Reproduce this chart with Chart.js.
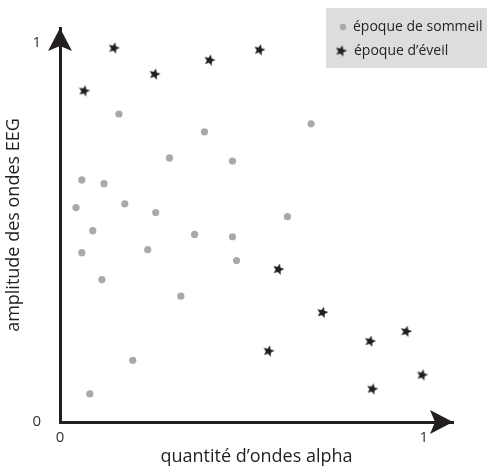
<!DOCTYPE html>
<html><head><meta charset="utf-8">
<script src="https://cdn.jsdelivr.net/npm/chart.js@4/dist/chart.umd.min.js"></script>
<style>html,body{margin:0;padding:0;background:#fff;overflow:hidden;}</style>
</head><body>
<canvas id="c" width="487" height="466"></canvas>
<script>
// ---- data ----
const seriesLabels = ['époque de sommeil', 'époque d’éveil'];
const sleepX = [0.162,0.397,0.690,0.301,0.474,0.060,0.121,0.044,0.178,0.263,0.625,0.090,0.370,0.474,0.060,0.241,0.485,0.115,0.332,0.200,0.082];
const sleepY = [0.813,0.766,0.787,0.697,0.689,0.639,0.629,0.566,0.576,0.553,0.542,0.505,0.495,0.489,0.447,0.455,0.426,0.376,0.332,0.163,0.074];
const wakeX = [0.148,0.411,0.548,0.260,0.066,0.600,0.721,0.951,0.852,0.573,0.995,0.858];
const wakeY = [0.987,0.955,0.982,0.918,0.874,0.403,0.289,0.239,0.213,0.187,0.124,0.087];
const xTickValues = [0, 1];
const yTickValues = [0, 1];
const xTitle = 'quantité d’ondes alpha';
const yTitle = 'amplitude des ondes EEG';

const INK = '#231f20';
const GRAY = '#a7a9ac';
const FONT = '"Open Sans", "Noto Sans", sans-serif';

function makeStar(size, color, rot) {
  const c = document.createElement('canvas');
  c.width = size; c.height = size;
  const g = c.getContext('2d');
  const cx = size/2, cy = size/2, R = size/2 - 0.5, r = R*0.45;
  g.beginPath();
  for (let i = 0; i < 10; i++) {
    const a = -Math.PI/2 + rot + i*Math.PI/5;
    const rr = i % 2 === 0 ? R : r;
    const x = cx + rr*Math.cos(a), y = cy + rr*Math.sin(a);
    if (i === 0) g.moveTo(x, y); else g.lineTo(x, y);
  }
  g.closePath();
  g.fillStyle = color; g.fill();
  return c;
}
const starImg = makeStar(13, INK, 0.25);

const toPts = (xs, ys) => xs.map((x, i) => ({x, y: ys[i]}));

const axisArrows = {
  id: 'axisArrows',
  afterDraw(chart) {
    const {ctx, chartArea: a} = chart;
    ctx.save();
    ctx.fillStyle = INK;
    const L = 23, W = 12, N = 5;
    ctx.beginPath();
    ctx.moveTo(a.right, a.bottom);
    ctx.lineTo(a.right - L, a.bottom - W);
    ctx.lineTo(a.right - L + N, a.bottom);
    ctx.lineTo(a.right - L, a.bottom + W);
    ctx.closePath(); ctx.fill();
    ctx.beginPath();
    ctx.moveTo(a.left, a.top);
    ctx.lineTo(a.left - W, a.top + L);
    ctx.lineTo(a.left, a.top + L - N);
    ctx.lineTo(a.left + W, a.top + L);
    ctx.closePath(); ctx.fill();
    ctx.restore();
  }
};

const boxLegend = {
  id: 'boxLegend',
  afterDraw(chart) {
    const {ctx} = chart;
    ctx.save();
    ctx.fillStyle = '#dcdddd';
    ctx.fillRect(326, 8, 170, 60);
    ctx.font = '14px ' + FONT;
    ctx.textBaseline = 'middle';
    const ds = chart.data.datasets;
    ctx.beginPath();
    ctx.arc(343, 27, 3.2, 0, Math.PI*2);
    ctx.fillStyle = GRAY; ctx.fill();
    ctx.fillStyle = INK;
    ctx.fillText(ds[0].label, 353, 27);
    ctx.drawImage(starImg, 341 - 6.5, 51 - 6.5);
    ctx.fillText(ds[1].label, 354, 51);
    ctx.restore();
  }
};

new Chart(document.getElementById('c'), {
  type: 'scatter',
  data: {
    datasets: [
      { label: seriesLabels[0], data: toPts(sleepX, sleepY), pointStyle: 'circle', pointRadius: 3.6, pointHoverRadius: 3.6, backgroundColor: GRAY, borderColor: GRAY, borderWidth: 0 },
      { label: seriesLabels[1], data: toPts(wakeX, wakeY), pointStyle: starImg, pointRadius: 6, pointHoverRadius: 6, backgroundColor: INK, borderColor: INK }
    ]
  },
  options: {
    responsive: false,
    animation: false,
    devicePixelRatio: 1,
    layout: { padding: { top: 28, right: 34, left: 0, bottom: 0 } },
    plugins: { legend: { display: false }, tooltip: { enabled: false } },
    scales: {
      x: {
        type: 'linear', min: 0, max: 1.08,
        afterBuildTicks: s => { s.ticks = xTickValues.map(v => ({value: v})); },
        afterFit: s => { s.height = 44; },
        grid: { display: false, drawTicks: false },
        border: { display: true, color: INK, width: 3 },
        ticks: { padding: 7, color: '#333', font: { family: FONT, size: 15 }, callback: v => String(v), maxRotation: 0 },
        title: { display: true, text: xTitle, color: INK, font: { family: FONT, size: 18, lineHeight: 1 }, padding: { top: 0, bottom: 0 } }
      },
      y: {
        type: 'linear', min: 0, max: 1.04,
        afterBuildTicks: s => { s.ticks = yTickValues.map(v => ({value: v})); },
        afterFit: s => { s.width = 60; },
        grid: { display: false, drawTicks: false },
        border: { display: true, color: INK, width: 3 },
        ticks: { padding: 19, color: '#333', font: { family: FONT, size: 15 }, callback: v => String(v) },
        title: { display: true, text: yTitle, color: INK, font: { family: FONT, size: 18, lineHeight: 1 }, padding: { top: 5, bottom: 0 } }
      }
    }
  },
  plugins: [axisArrows, boxLegend]
});
</script>
</body></html>
